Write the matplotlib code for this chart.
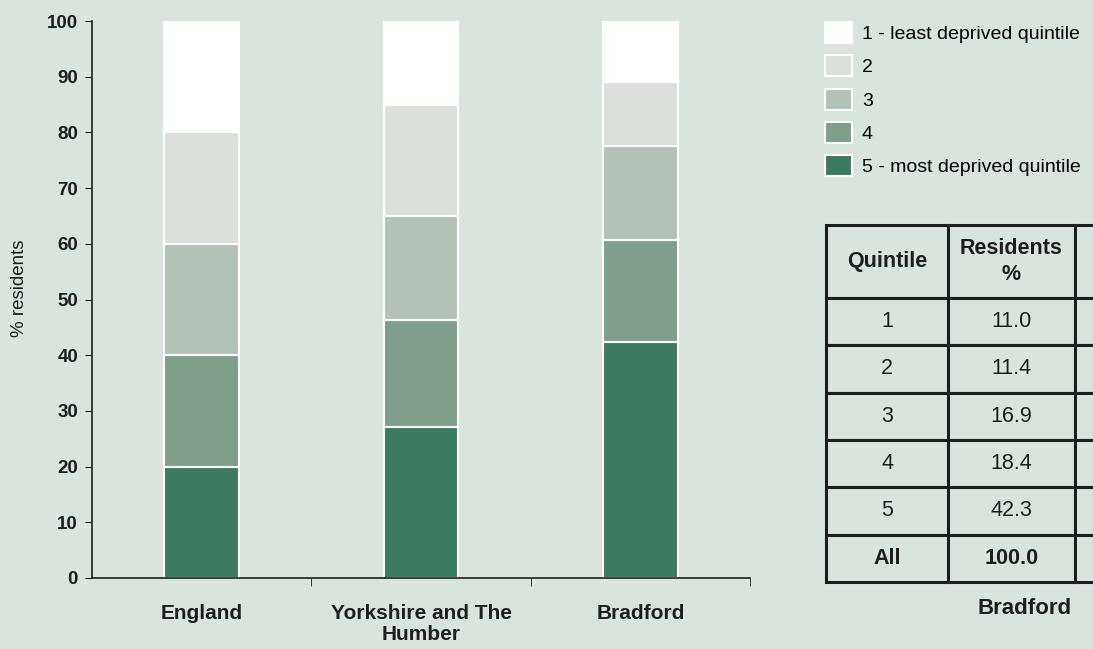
import numpy as np
import matplotlib
matplotlib.use("Agg")
import matplotlib.pyplot as plt
from matplotlib.patches import Patch

plt.rcParams['font.family'] = ['Liberation Sans', 'DejaVu Sans']

# data
areas = ["England", "Yorkshire and The\nHumber", "Bradford"]
quintiles = ["1 - least deprived quintile", "2", "3", "4", "5 - most deprived quintile"]
# share of residents by quintile, bottom (5) first
q5 = [20.0, 27.1, 42.3]
q4 = [20.0, 19.2, 18.4]
q3 = [20.0, 18.7, 16.9]
q2 = [20.0, 19.9, 11.4]
q1 = [20.0, 15.1, 11.0]
table_quintile = ["1", "2", "3", "4", "5", "All"]
table_residents = ["11.0", "11.4", "16.9", "18.4", "42.3", "100.0"]

bg = "#d9e5dc"
ink = "#1e1e1e"
colors = {"q1": "#ffffff", "q2": "#dbe0db", "q3": "#b4c1b7", "q4": "#7f9e8b", "q5": "#3c7a62"}

fig = plt.figure(figsize=(10.93, 6.49), dpi=100, facecolor=bg)
ax = fig.add_axes([92/1093, 1-578/649, 658/1093, 557/649], facecolor=bg)

x = np.arange(len(areas))
bottom = np.zeros(len(areas))
for key, vals in [("q5", q5), ("q4", q4), ("q3", q3), ("q2", q2), ("q1", q1)]:
    ax.bar(x, vals, width=0.34, bottom=bottom, color=colors[key],
           edgecolor="white", linewidth=1.5)
    bottom += np.array(vals)

ax.set_xlim(-0.5, 2.5)
ax.set_ylim(0, 100)
ax.set_yticks(np.arange(0, 101, 10))
ax.set_xticks(x)
ax.set_xticklabels(areas, fontsize=15, fontweight="bold", color=ink, linespacing=1.12)
ax.tick_params(axis="x", length=0, pad=19)
ax.set_xticks([0.5, 1.5, 2.5], minor=True)
ax.tick_params(axis="x", which="minor", length=6, direction="out", color=ink)
ax.tick_params(axis="y", length=5, labelsize=13.5, color=ink, labelcolor=ink, pad=5)
for lab in ax.get_yticklabels():
    lab.set_fontweight("bold")
ax.set_ylabel("% residents", fontsize=13.5, color=ink)
ax.yaxis.set_label_coords(-0.098, 0.52)
for s in ["top", "right"]:
    ax.spines[s].set_visible(False)
for s in ["left", "bottom"]:
    ax.spines[s].set_color(ink)
    ax.spines[s].set_linewidth(1.2)

handles = [Patch(facecolor=colors[k], edgecolor="white", linewidth=1.5)
           for k in ["q1", "q2", "q3", "q4", "q5"]]
fig.legend(handles, quintiles, loc="upper left", bbox_to_anchor=(825/1093, 1-22/649),
           frameon=False, handlelength=1.4, handleheight=1.3,
           labelspacing=0.62, handletextpad=0.5, borderaxespad=0, borderpad=0,
           prop={"size": 14})

# table (third column runs off the right edge as in the source)
tax = fig.add_axes([826/1093, 1-582/649, 376/1093, 357/649])
tax.axis("off")
cells = [["Quintile", "Residents\n%", ""]] + [[q, r, ""] for q, r in zip(table_quintile, table_residents)]
tbl = tax.table(cellText=cells, colWidths=[122/376, 127/376, 127/376],
                cellLoc="center", bbox=[0, 0, 1, 1])
tbl.auto_set_font_size(False)
head_h = 73/357
row_h = (1 - head_h) / 6
for (r, c), cell in tbl.get_celld().items():
    cell.set_facecolor(bg)
    cell.set_edgecolor(ink)
    cell.set_linewidth(2.2)
    cell.set_height(head_h if r == 0 else row_h)
    txt = cell.get_text()
    txt.set_fontsize(15.5)
    txt.set_color(ink)
    txt.set_linespacing(1.3)
    if r == 0 or r == 6:
        txt.set_fontweight("bold")

fig.text(1025/1093, 1-609/649, "Bradford", ha="center", va="center",
         fontsize=16, fontweight="bold", color=ink)

fig.savefig("out.png", dpi=100, facecolor=bg)
